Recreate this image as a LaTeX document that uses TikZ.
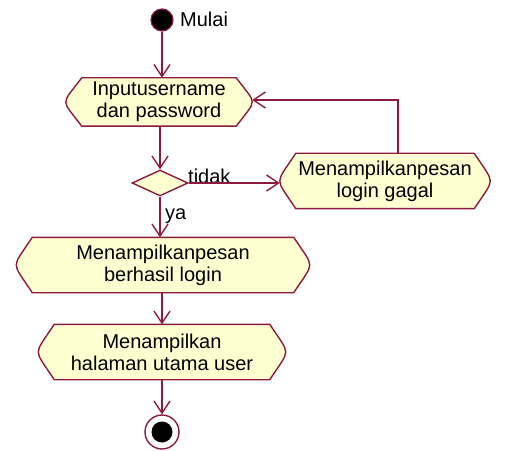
\documentclass[tikz,border=0pt]{standalone}
\usepackage{fontspec}
\setmainfont{Liberation Sans}
\usetikzlibrary{shapes.geometric,arrows.meta,calc,backgrounds}
\definecolor{umlline}{HTML}{8B1A3C}
\definecolor{umlfill}{HTML}{FFFFD2}
\tikzset{
  conn/.style={draw=umlline, line width=1.4bp, -{Straight Barb[length=12bp,width=16bp,line width=1.4bp]}},
  actbox/.style={rectangle, inner sep=0pt, align=center,
    font=\fontsize{20bp}{22bp}\selectfont, text=black},
  actline/.style={draw=umlline, fill=umlfill, line width=1.4bp},
  lbl/.style={font=\fontsize{20bp}{22bp}\selectfont, text=black, inner sep=0pt},
}
\newcommand\actshape[1]{%
  \path[actline] let \p1=(#1.north west), \p2=(#1.south east), \p3=(#1.center),
    \p4=($(#1.north)!0.3!(#1.south)$), \p5=($(#1.north)!0.4!(#1.south)$),
    \p6=($(#1.north)!0.6!(#1.south)$), \p7=($(#1.north)!0.7!(#1.south)$) in
    (\x1+16pt,\y1) -- (\x2-16pt,\y1)
    .. controls (\x2-5pt,\y4) and (\x2,\y5) .. (\x2,\y3)
    .. controls (\x2,\y6) and (\x2-5pt,\y7) .. (\x2-16pt,\y2)
    -- (\x1+16pt,\y2)
    .. controls (\x1+5pt,\y7) and (\x1,\y6) .. (\x1,\y3)
    .. controls (\x1,\y5) and (\x1+5pt,\y4) .. cycle;}
\begin{document}
\begin{tikzpicture}[x=1bp,y=-1bp]
\useasboundingbox (0,0) rectangle (513,451);
% start
\node[circle, fill=black, draw=umlline, line width=1.2bp, minimum size=22bp, inner sep=0pt] (start) at (162,20) {};
\node[lbl, anchor=west] (mulai) at (180,19) {Mulai};
% activities
\node[actbox, minimum width=186bp, minimum height=48bp] (act1) at (159,102) {Inputusername\\dan password};
\node[diamond, draw=umlline, fill=umlfill, line width=1.4bp, inner sep=0pt, minimum width=56bp, minimum height=26bp] (dec) at (160,183) {};
\node[actbox, minimum width=210bp, minimum height=55bp] (gagal) at (385,181) {Menampilkanpesan\\login gagal};
\node[actbox, minimum width=293bp, minimum height=55bp] (ok) at (163,265) {Menampilkanpesan\\berhasil login};
\node[actbox, minimum width=247bp, minimum height=55bp] (home) at (162,352) {Menampilkan\\halaman utama user};
\begin{scope}[on background layer]
  \actshape{act1}
  \actshape{gagal}
  \actshape{ok}
  \actshape{home}
\end{scope}
% end
\node[circle, draw=umlline, line width=1.4bp, fill=white, minimum size=34bp, inner sep=0pt] (endo) at (162,432) {};
\node[circle, fill=black, minimum size=21bp, inner sep=0pt] (endi) at (162,432) {};
% labels
\node[lbl, anchor=west] (tidak) at (188,176) {tidak};
\node[lbl, anchor=west] (ya) at (165,216) {ya};
% connectors
\draw[conn] (start) -- (start |- act1.north);
\draw[conn] (act1.south -| dec) -- (dec.north);
\draw[conn] (dec.east) -- (dec.east -| gagal.west);
\coordinate (lp) at (398,100);
\draw[conn] (gagal.north -| lp) -- (lp) -- (lp -| act1.east);
\draw[conn] (dec.south) -- (dec.south |- ok.north);
\draw[conn] (ok.south -| home) -- (home.north);
\draw[conn] (home.south) -- (endo.north);
\end{tikzpicture}
\end{document}
